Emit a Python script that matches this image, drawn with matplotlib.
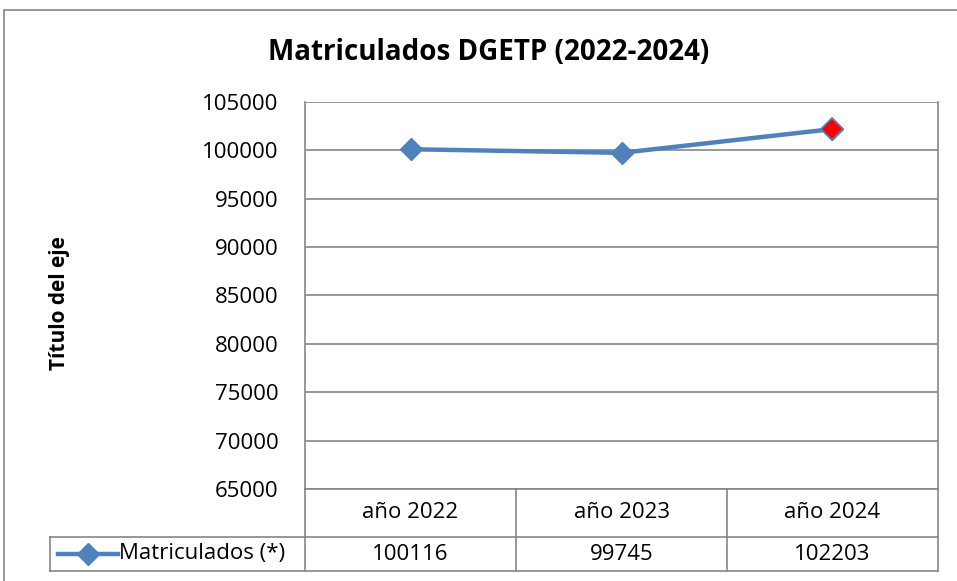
import matplotlib.pyplot as plt
from matplotlib.patches import Rectangle

plt.rcParams['font.family'] = ['Open Sans', 'DejaVu Sans']

# data
categories = ['año 2022', 'año 2023', 'año 2024']
matriculados = [100116, 99745, 102203]
series_name = 'Matriculados (*)'
yticks = [65000, 70000, 75000, 80000, 85000, 90000, 95000, 100000, 105000]

W, H = 957, 581
fig = plt.figure(figsize=(W / 100, H / 100), dpi=100)

# outer chart border
fig.patches.append(Rectangle((4 / W, -0.1), 1.1, 1 - 10 / H + 0.1, transform=fig.transFigure,
                             fill=False, edgecolor='#868686', linewidth=1.2))

left, right, top, bottom = 305, 938, 102, 489
ax = fig.add_axes([left / W, 1 - bottom / H, (right - left) / W, (bottom - top) / H])

x = list(range(len(categories)))
blue = '#4F81BD'
ax.plot(x, matriculados, color=blue, linewidth=3.2, marker='D', markersize=11,
        markerfacecolor=blue, markeredgecolor=blue, zorder=3)
# last point highlighted red
ax.plot(x[-1], matriculados[-1], marker='D', markersize=11, markerfacecolor='red',
        markeredgecolor=blue, markeredgewidth=1.2, linestyle='none', zorder=4)

ax.set_xlim(-0.5, len(categories) - 0.5)
ax.set_ylim(65000, 105000)
ax.set_yticks(yticks)
ax.set_yticklabels([str(v) for v in yticks], fontsize=16)
ax.tick_params(axis='y', length=0, pad=19)
ax.set_xticks([])
ax.grid(axis='y', color='#868686', linewidth=1.2)
ax.set_axisbelow(True)
for s in ax.spines.values():
    s.set_color('#868686')
    s.set_linewidth(1.2)
ax.spines['bottom'].set_visible(False)
ax.spines['top'].set_visible(False)

fig.text(489 / W, 1 - 52 / H, 'Matriculados DGETP (2022-2024)', fontsize=20, fontweight='bold',
         ha='center', va='center')
fig.text(60 / W, 1 - 303 / H, 'Título del eje', rotation=90, fontsize=15, fontweight='bold',
         ha='center', va='center')

# data table below the plot
ph = bottom - top
pw = right - left
def ay(py):
    return (bottom - py) / ph
def axx(px):
    return (px - left) / pw

r1, r2 = 537, 571
lc = '#868686'
kw = dict(color=lc, linewidth=1.2, transform=ax.transAxes, clip_on=False)
ax.plot([0, 1], [ay(bottom), ay(bottom)], **kw)
ax.plot([axx(50), 1], [ay(r1), ay(r1)], **kw)
ax.plot([axx(50), 1], [ay(r2), ay(r2)], **kw)
ax.plot([axx(50), axx(50)], [ay(r1), ay(r2)], **kw)
for i in range(len(categories) + 1):
    xc = i / len(categories)
    ax.plot([xc, xc], [ay(bottom), ay(r2)], **kw)

for i, (c, v) in enumerate(zip(categories, matriculados)):
    xc = (i + 0.5) / len(categories)
    ax.text(xc, ay((bottom + r1) / 2), c, transform=ax.transAxes, ha='center', va='center', fontsize=16)
    ax.text(xc, ay((r1 + r2) / 2), str(v), transform=ax.transAxes, ha='center', va='center', fontsize=16)

# legend key in table
ym = ay((r1 + r2) / 2)
ax.plot([axx(58), axx(118)], [ym, ym], color=blue, linewidth=3.2, marker=None,
        transform=ax.transAxes, clip_on=False)
ax.plot([axx(88)], [ym], marker='D', markersize=11, color=blue, transform=ax.transAxes, clip_on=False)
ax.text(axx(119), ym, series_name, transform=ax.transAxes, ha='left', va='center', fontsize=16)

fig.savefig('out.png', dpi=100)
